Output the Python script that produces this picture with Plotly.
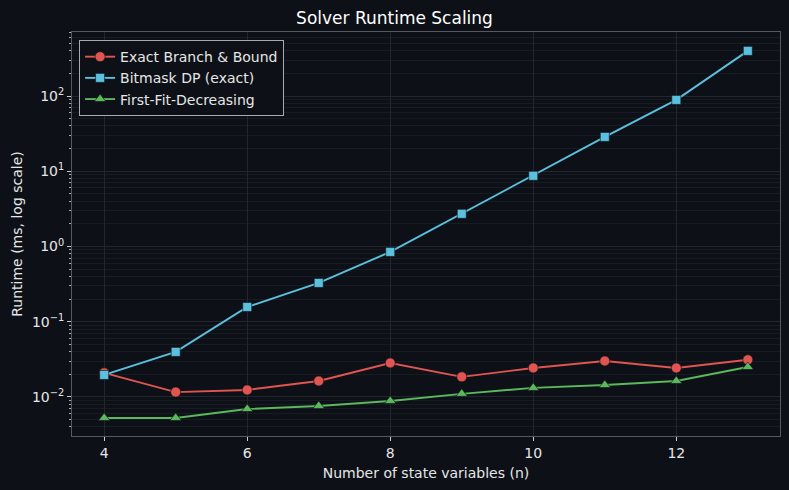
import plotly.graph_objects as go

n_vars = [4, 5, 6, 7, 8, 9, 10, 11, 12, 13]
bnb_ms = [0.0209, 0.0116, 0.0124, 0.0163, 0.0283, 0.0185, 0.0243, 0.0301, 0.0243, 0.0312]
dp_ms = [0.0196, 0.0397, 0.157, 0.328, 0.847, 2.72, 8.7, 28.6, 88.8, 398]
ffd_ms = [0.00526, 0.00526, 0.00692, 0.00759, 0.00885, 0.0110, 0.0132, 0.0144, 0.0163, 0.0250]

ytickvals = [0.01, 0.1, 1, 10, 100]
yticktext = ["10<sup>−2</sup>", "10<sup>−1</sup>", "10<sup>0</sup>", "10<sup>1</sup>", "10<sup>2</sup>"]

series = [
    ("Exact Branch & Bound", bnb_ms, "#e05550", "circle", 10),
    ("Bitmask DP (exact)", dp_ms, "#5bc0de", "square", 9),
    ("First-Fit-Decreasing", ffd_ms, "#5cb85c", "triangle-up", 10),
]

BG = "#0d1117"
FONT = "DejaVu Sans"

fig = go.Figure()
for name, vals, color, sym, sz in series:
    fig.add_trace(go.Scatter(
        x=n_vars, y=vals, name=name, mode="lines+markers",
        line=dict(color=color, width=1.9),
        marker=dict(symbol=sym, size=sz, color=color, line=dict(width=0.6, color=BG)),
    ))

fig.update_layout(
    width=789, height=490,
    paper_bgcolor=BG, plot_bgcolor=BG,
    font=dict(family=FONT, color="#e6e6e6", size=14),
    margin=dict(l=72, r=9, t=32, b=54),
    title=dict(text="Solver Runtime Scaling", x=0.5, xanchor="center", y=0.963, yanchor="middle",
               font=dict(size=17, color="#ffffff")),
    showlegend=True,
    legend=dict(x=0.01, y=0.98, xanchor="left", yanchor="top",
                bgcolor=BG, bordercolor="#aaaaaa", borderwidth=1,
                font=dict(size=14, color="#e6e6e6"), tracegroupgap=0),
    xaxis=dict(
        range=[3.55, 13.45], tickvals=[4, 6, 8, 10, 12],
        ticks="outside", ticklen=4, tickcolor="#cccccc",
        showgrid=True, gridcolor="#22272e", gridwidth=1,
        showline=True, linecolor="#555a60", mirror=True, zeroline=False,
        title=dict(text="Number of state variables (n)", font=dict(size=14), standoff=8),
        tickfont=dict(size=14),
    ),
    yaxis=dict(
        type="log", range=[-2.519, 2.851],
        tickmode="array", tickvals=ytickvals, ticktext=yticktext,
        ticks="outside", ticklen=4, tickcolor="#cccccc",
        showgrid=True, gridcolor="#22272e", gridwidth=1,
        showline=True, linecolor="#555a60", mirror=True, zeroline=False,
        minor=dict(dtick="D1", ticks="outside", ticklen=2, tickcolor="#aaaaaa",
                   showgrid=True, gridcolor="#171c23", gridwidth=0.6),
        title=dict(text="Runtime (ms, log scale)", font=dict(size=14), standoff=6),
        tickfont=dict(size=14),
    ),
)

fig.write_html("out.html")
